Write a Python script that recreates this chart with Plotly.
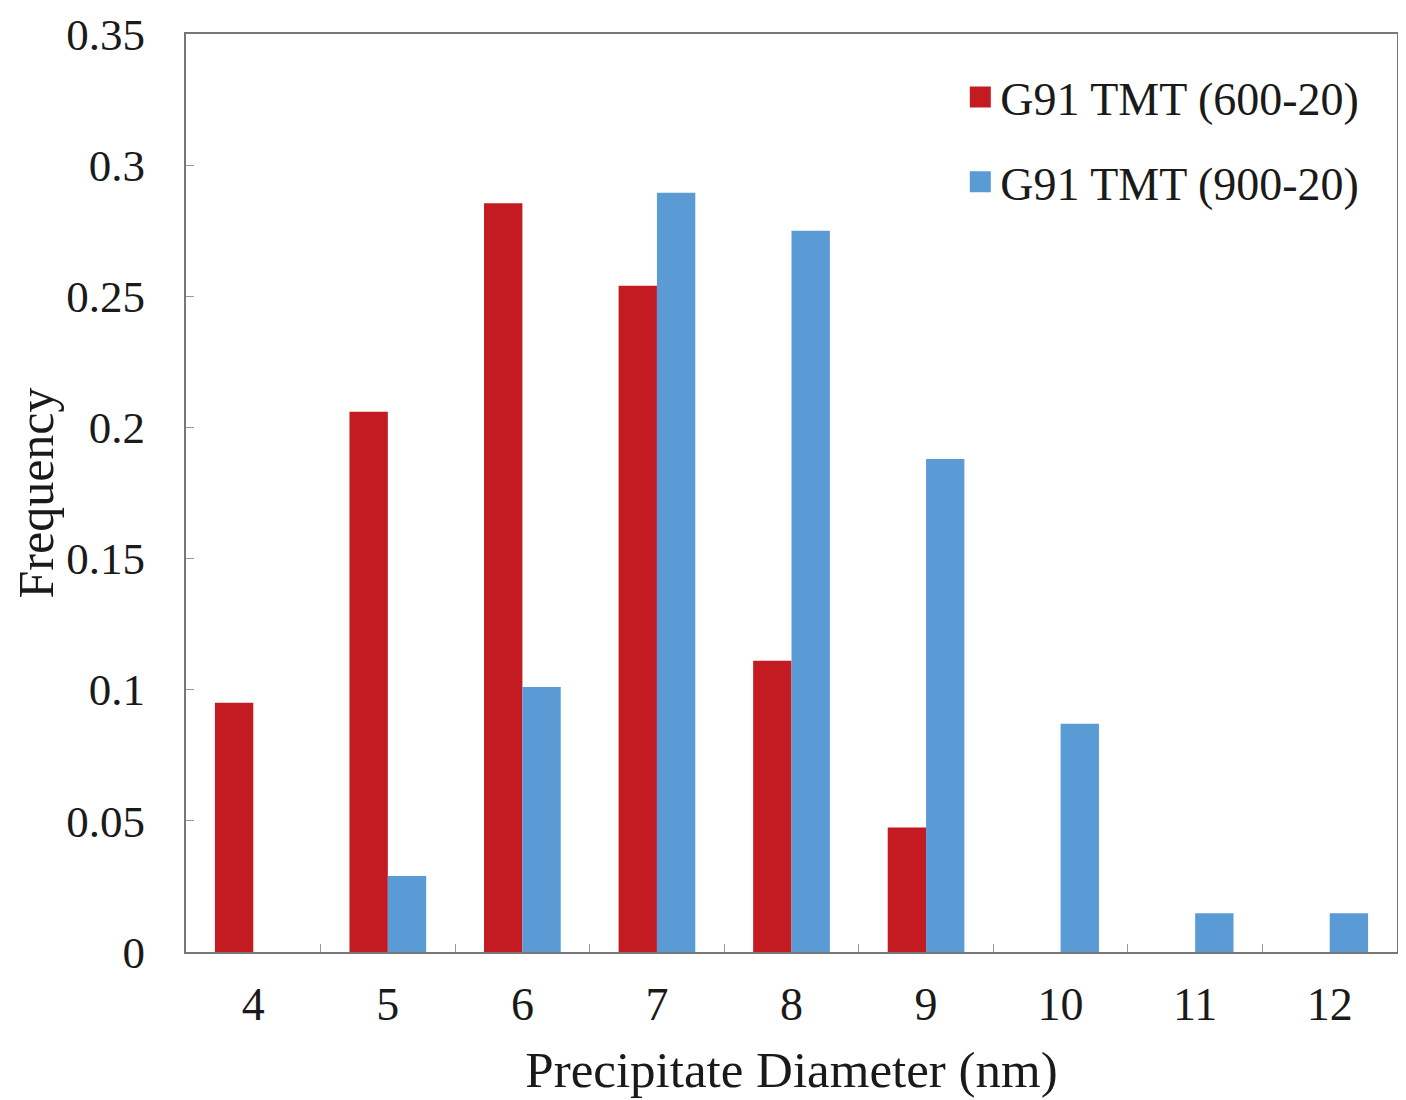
import plotly.graph_objects as go

diameters = ["4", "5", "6", "7", "8", "9", "10", "11", "12"]
freq_600 = [0.095, 0.206, 0.2855, 0.254, 0.111, 0.0475, 0, 0, 0]
freq_900 = [0, 0.029, 0.101, 0.2895, 0.275, 0.188, 0.087, 0.0148, 0.0148]
series_names = ["G91 TMT (600-20)", "G91 TMT (900-20)"]
colors = ["#C41A22", "#5B9BD5"]

FONT = "Liberation Serif"

fig = go.Figure()
fig.add_trace(go.Bar(x=diameters, y=freq_600, name=series_names[0],
                     marker=dict(color=colors[0], line=dict(width=0)), showlegend=False))
fig.add_trace(go.Bar(x=diameters, y=freq_900, name=series_names[1],
                     marker=dict(color=colors[1], line=dict(width=0)), showlegend=False))
for i, (nm, c) in enumerate(zip(series_names, colors)):
    fig.add_trace(go.Scatter(x=[None], y=[None], mode="markers", name=nm,
                             legendgroup=f"g{i}",
                             marker=dict(symbol="square", size=16, color=c,
                                         line=dict(width=5, color=c))))

fig.update_layout(
    width=1406, height=1100,
    margin=dict(l=178, r=17, t=26, b=156, autoexpand=False),
    paper_bgcolor="white", plot_bgcolor="white",
    barmode="group", bargap=0.43, bargroupgap=0,
    font=dict(family=FONT, size=44, color="#1a1a1a"),
    legend=dict(x=0.973, y=0.971, xanchor="right", yanchor="top",
                bgcolor="rgba(0,0,0,0)", font=dict(size=46),
                itemsizing="trace", tracegroupgap=22, traceorder="grouped",
                itemwidth=30),
    xaxis=dict(
        type="category", tickson="boundaries", ticks="inside", ticklen=8,
        tickcolor="#999", showline=True, linecolor="#777", linewidth=2,
        mirror=True, showgrid=False, automargin=False, ticklabelstandoff=11,
        ticklabeloverflow="allow",
        title=dict(text="Precipitate Diameter (nm)", font=dict(size=51), standoff=22),
        tickfont=dict(size=46),
    ),
    yaxis=dict(
        range=[0, 0.35], dtick=0.05, ticks="inside", ticklen=8, tickcolor="#999",
        showline=True, linecolor="#777", linewidth=2, mirror=True,
        showgrid=False, zeroline=False, tickformat="~g", automargin=False,
        ticklabelstandoff=30, ticklabeloverflow="allow",
        title=dict(text="Frequency", font=dict(size=50), standoff=0),
        tickfont=dict(size=45),
    ),
)

fig.write_html("out.html")
